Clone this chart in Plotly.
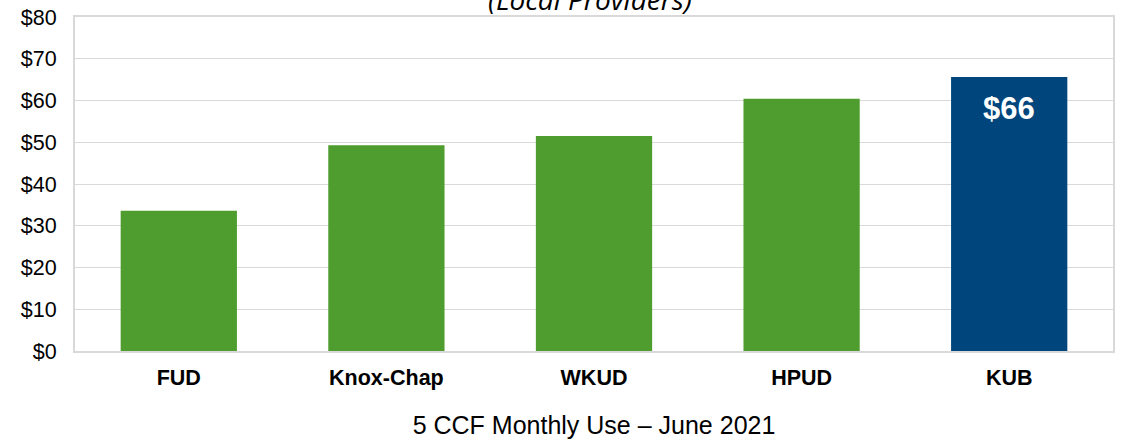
import plotly.graph_objects as go

categories = ["FUD", "Knox-Chap", "WKUD", "HPUD", "KUB"]
values = [33.6, 49.3, 51.5, 60.4, 65.6]
bar_colors = ["#4f9d2f", "#4f9d2f", "#4f9d2f", "#4f9d2f", "#00467c"]
label_category = "KUB"
label_text = "$66"
y_ticks = [0, 10, 20, 30, 40, 50, 60, 70, 80]
y_tick_labels = ["$" + str(v) for v in y_ticks]

fig = go.Figure()
fig.add_trace(go.Bar(
    x=categories, y=values,
    marker=dict(color=bar_colors, line=dict(width=0)),
    hoverinfo="skip",
))

label_value = values[categories.index(label_category)]

fig.update_layout(
    width=1127, height=439,
    margin=dict(l=75, r=14, t=17, b=88),
    plot_bgcolor="white", paper_bgcolor="white",
    bargap=0.44, showlegend=False,
    font=dict(family="Liberation Sans", color="black"),
    xaxis=dict(
        automargin=False,
        tickfont=dict(size=21.5, weight="bold", color="black"),
        showgrid=False, showline=True, linecolor="#d9d9d9", linewidth=2,
        mirror=True, ticks="", ticklabelstandoff=6,
        title=dict(text="5 CCF Monthly Use – June 2021", font=dict(size=25, color="black"), standoff=30),
    ),
    yaxis=dict(
        automargin=False,
        range=[0, 80], tickvals=y_ticks, ticktext=y_tick_labels,
        tickfont=dict(size=21.5, color="black"),
        showgrid=True, gridcolor="#d9d9d9", gridwidth=1,
        showline=True, linecolor="#d9d9d9", linewidth=2, mirror=True,
        zeroline=False, ticks="", ticklabelstandoff=12,
    ),
    annotations=[
        dict(
            text="<i>(Local Providers)</i>", xref="paper", yref="paper",
            x=0.496, y=1, yanchor="bottom", yshift=-3, showarrow=False,
            font=dict(family="Open Sans", size=28, color="black"),
        ),
        dict(
            text="<b>" + label_text + "</b>", x=label_category, y=label_value,
            xref="x", yref="y", yanchor="top", yshift=-12, showarrow=False,
            font=dict(family="Liberation Sans", size=31, color="white"),
        ),
    ],
)

fig.write_html(
    "out.html",
    config={"displayModeBar": False},
    post_script="document.body.style.margin='0px';document.body.style.padding='0px';document.body.style.overflow='hidden';",
)
